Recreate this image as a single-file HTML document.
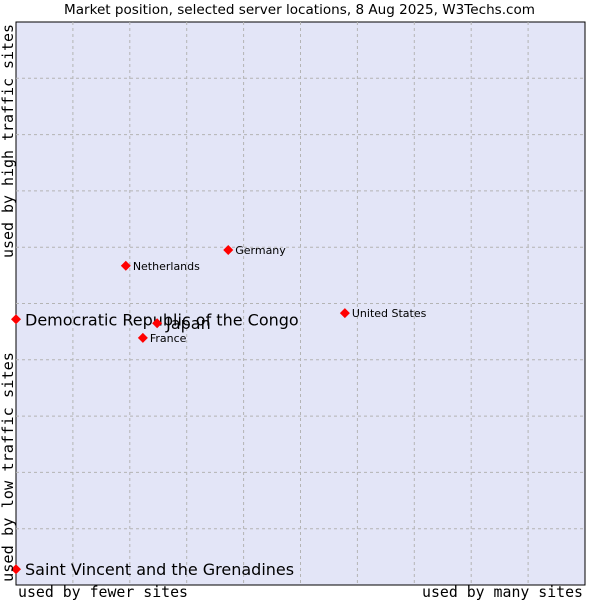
<!DOCTYPE html>
<html><head><meta charset="utf-8"><style>
body{margin:0;background:#fff;}
svg{display:block;font-family:"DejaVu Sans","Liberation Sans",sans-serif;}
</style></head><body>
<svg id="c" width="600" height="600">
<text x="64" y="14" textLength="471" lengthAdjust="spacingAndGlyphs" font-size="13" fill="#000">Market position, selected server locations, 8 Aug 2025, W3Techs.com</text>
<rect x="16" y="22" width="569" height="563" fill="#e3e5f7" stroke="#000" stroke-width="1"/>
<g id="grid"></g>
<g id="pts"></g>
<text transform="translate(13,258) rotate(-90)" x="0" y="0" textLength="234" lengthAdjust="spacingAndGlyphs" font-family="DejaVu Sans Mono,Liberation Mono,monospace" font-size="15">used by high traffic sites</text>
<text transform="translate(13,582) rotate(-90)" x="0" y="0" textLength="230" lengthAdjust="spacingAndGlyphs" font-family="DejaVu Sans Mono,Liberation Mono,monospace" font-size="15">used by low traffic sites</text>
<text x="18" y="597" textLength="170" lengthAdjust="spacingAndGlyphs" font-family="DejaVu Sans Mono,Liberation Mono,monospace" font-size="15">used by fewer sites</text>
<text x="422" y="597" textLength="161" lengthAdjust="spacingAndGlyphs" font-family="DejaVu Sans Mono,Liberation Mono,monospace" font-size="15">used by many sites</text>
</svg>
<script>
const names=["Democratic Republic of the Congo","Saint Vincent and the Grenadines","Japan","France","Netherlands","Germany","United States"];
const xVals=[0,0,24.8,22.3,19.3,37.3,57.8];
const yVals=[47.2,2.8,46.5,43.9,56.7,59.5,48.3];
const bigLabel=[true,true,true,false,false,false,false];
const L=16,T=22,W=569,H=563;
const sx=v=>L+v/100*W, sy=v=>T+H-v/100*H;
const NS="http://www.w3.org/2000/svg";
const grid=document.getElementById('grid'), pts=document.getElementById('pts');
for(let i=1;i<10;i++){
  const v=document.createElementNS(NS,'line');
  v.setAttribute('x1',sx(i*10));v.setAttribute('x2',sx(i*10));v.setAttribute('y1',T);v.setAttribute('y2',T+H);
  v.setAttribute('stroke','#b4b4b4');v.setAttribute('stroke-dasharray','3,3');
  
  
  grid.appendChild(v);
  const h=document.createElementNS(NS,'line');
  h.setAttribute('y1',sy(i*10));h.setAttribute('y2',sy(i*10));h.setAttribute('x1',L);h.setAttribute('x2',L+W);
  h.setAttribute('stroke','#b4b4b4');h.setAttribute('stroke-dasharray','3,3');
  
  
  grid.appendChild(h);
}
names.forEach((n,i)=>{
  const x=sx(xVals[i]),y=sy(yVals[i]);
  const d=document.createElementNS(NS,'polygon');
  d.setAttribute('points',`${x},${y-5} ${x+5},${y} ${x},${y+5} ${x-5},${y}`);
  d.setAttribute('fill','#ff0000');
  
  
  pts.appendChild(d);
  const t=document.createElementNS(NS,'text');
  t.setAttribute('x',x+(bigLabel[i]?9:7));
  t.setAttribute('y',y+(bigLabel[i]?6:4));
  t.setAttribute('font-size',bigLabel[i]?16:11);
  t.setAttribute('fill','#000');
  t.textContent=n;
  
  
  pts.appendChild(t);
});
</script>
</body></html>
